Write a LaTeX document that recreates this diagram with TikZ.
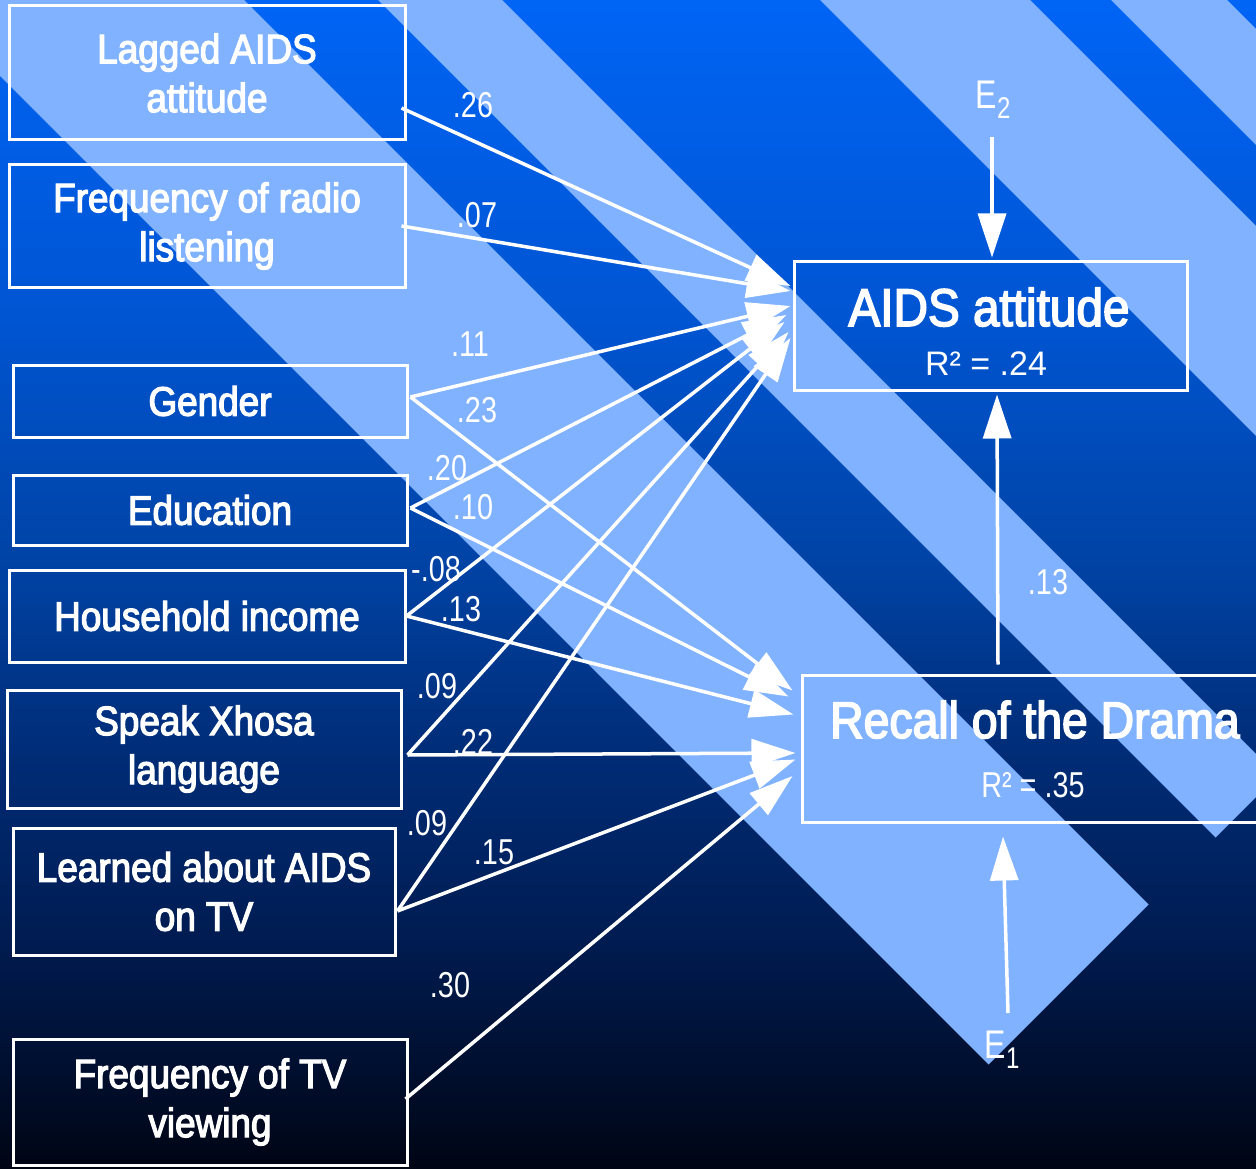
\documentclass[tikz,border=0pt]{standalone}
\usepackage{fontspec}
\setmainfont{Liberation Sans}
\newfontfamily\narfont{Liberation Sans}[FakeStretch=0.9, FakeBold=3]
\newfontfamily\lblfont{Liberation Sans}[FakeStretch=0.8]
\usetikzlibrary{arrows.meta}
\definecolor{stripe}{RGB}{128,178,255}
\definecolor{bgA}{RGB}{0,100,245}
\definecolor{bgB}{RGB}{0,85,210}
\definecolor{bgC}{RGB}{0,67,165}
\definecolor{bgD}{RGB}{0,45,120}
\definecolor{bgE}{RGB}{0,28,82}
\definecolor{bgF}{RGB}{0,5,20}
\pgfdeclareverticalshading{bgshade}{100bp}{color(0bp)=(bgF); color(25bp)=(bgF); color(35bp)=(bgE); color(43bp)=(bgD); color(51bp)=(bgC); color(61.5bp)=(bgB); color(75bp)=(bgA); color(100bp)=(bgA)}
\newcommand{\bxfont}{\narfont\fontsize{41}{49}\selectfont}
\newcommand{\lbfont}{\lblfont\fontsize{36}{36}\selectfont}
\tikzset{
  box/.style={draw=white, line width=3pt, text=white, align=center, inner sep=0pt, font=\bxfont},
  arr/.style={draw=white, line width=3.5pt, -{Triangle[length=44pt,width=28pt]}},
  lbl/.style={text=white, font=\lbfont, inner sep=0pt},
}
\begin{document}
\begin{tikzpicture}[x=1pt,y=-1pt]
\useasboundingbox (0,0) rectangle (1256,1169);
\begin{scope}
\clip (0,0) rectangle (1256,1169);
\shade[shading=bgshade] (0,0) rectangle (1256,1169);
% light stripes (45 degrees), bands A and B end at x+y=2053
\fill[stripe] (-86,-10) -- (234,-10) -- (1148.5,904.5) -- (988.5,1064.5) -- cycle;
\fill[stripe] (368,-10) -- (492,-10) -- (1277.5,775.5) -- (1215.5,837.5) -- cycle;
\fill[stripe] (810,-10) -- (1020,-10) -- (1541.5,511.5) -- (1436.5,616.5) -- cycle;
\fill[stripe] (1101,-10) -- (1217,-10) -- (1640,413) -- (1582,471) -- cycle;
\end{scope}

% predictor boxes
\node[box, minimum width=396pt, minimum height=134pt] (lag) at (207,73) {Lagged AIDS\\attitude};
\node[box, minimum width=396pt, minimum height=122pt] (radio) at (207,226) {Frequency of radio\\listening};
\node[box, minimum width=394pt, minimum height=72pt] (gen) at (210,401) {Gender};
\node[box, minimum width=394pt, minimum height=70pt] (edu) at (210,510) {Education};
\node[box, minimum width=396pt, minimum height=92pt] (hh) at (207,616) {Household income};
\node[box, minimum width=394pt, minimum height=118pt] (xho) at (204,749) {Speak Xhosa\\language};
\node[box, minimum width=382pt, minimum height=127pt] (tv) at (204,891.5) {Learned about AIDS\\on TV};
\node[box, minimum width=394pt, minimum height=126pt] (ftv) at (210,1102) {Frequency of TV\\viewing};

% outcome boxes
\node[box, minimum width=393pt, minimum height=128pt] (aids) at (990.5,326) {};
\node[text=white, inner sep=0pt, anchor=base, font=\narfont\fontsize{53}{53}\selectfont] (aidst) at (989,326) {AIDS attitude};
\node[text=white, inner sep=0pt, anchor=base, font=\fontsize{34}{34}\selectfont] (aidsr) at (986,375) {R² = .24};
\node[box, minimum width=460pt, minimum height=147pt] (rec) at (1032,748.5) {};
\node[text=white, inner sep=0pt, anchor=base, font=\narfont\fontsize{51.5}{52}\selectfont] (rect) at (1035,738) {Recall of the Drama};
\node[lbl, anchor=base] (recr) at (1033,797) {R² = .35};

% error terms
\node[lbl, font=\lblfont\fontsize{40}{40}\selectfont] (e2) at (993,100) {E\raisebox{-10pt}{\fontsize{30}{30}\selectfont 2}};
\node[lbl, font=\lblfont\fontsize{40}{40}\selectfont] (e1) at (1002,1050) {E\raisebox{-10pt}{\fontsize{30}{30}\selectfont 1}};
\coordinate (e2tail) at (992,137);
\coordinate (e1tail) at (1008,1013);

% arrows to AIDS attitude
\draw[arr] ([xshift=-5pt,yshift=-35pt]lag.east) -- ([xshift=-2pt,yshift=40pt]aids.west);
\draw[arr] ([xshift=-5pt]radio.east) -- ([xshift=-2pt,yshift=35pt]aids.west);
\draw[arr] ([xshift=2pt,yshift=4pt]gen.east) -- ([xshift=-2pt,yshift=20pt]aids.west);
\draw[arr] ([xshift=2pt,yshift=2pt]edu.east) -- ([xshift=-6pt,yshift=11pt]aids.west);
\draw[arr] (hh.east) -- ([xshift=-8pt,yshift=4pt]aids.west);
\draw[arr] ([xshift=5pt,yshift=-6pt]xho.east) -- ([xshift=-4pt,yshift=-6pt]aids.west);
\draw[arr] ([xshift=1pt,yshift=-19.5pt]tv.east) -- ([xshift=-2pt,yshift=-12pt]aids.west);

% arrows to Recall of the Drama
\draw[arr] ([xshift=2pt,yshift=4pt]gen.east) -- ([xshift=-8pt,yshift=58pt]rec.west);
\draw[arr] ([xshift=2pt,yshift=2pt]edu.east) -- ([xshift=-12pt,yshift=52pt]rec.west);
\draw[arr] (hh.east) -- ([xshift=-7pt,yshift=34pt]rec.west);
\draw[arr] ([xshift=5pt,yshift=-6pt]xho.east) -- ([xshift=-5pt,yshift=-4.5pt]rec.west);
\draw[arr] ([xshift=1pt,yshift=-19.5pt]tv.east) -- ([xshift=-5pt,yshift=-11pt]rec.west);
\draw[arr] ([xshift=-3pt,yshift=3pt]ftv.east) -- ([xshift=-8pt,yshift=-27.5pt]rec.west);

% recall -> attitude, errors
\draw[arr] ([xshift=-34pt,yshift=9pt]rec.north) -- ([xshift=6.5pt,yshift=-3pt]aids.south);
\draw[arr] (e2tail) -- ([xshift=1.5pt,yshift=3pt]aids.north);
\draw[arr] (e1tail) -- ([xshift=-29pt,yshift=-13pt]rec.south);

% path coefficients
\node[lbl] (l26) at (473,105) {.26};
\node[lbl] (l07) at (477,215) {.07};
\node[lbl] (l11) at (470,344) {.11};
\node[lbl] (l23) at (477,410) {.23};
\node[lbl] (l20) at (447,468) {.20};
\node[lbl] (l10) at (473,507) {.10};
\node[lbl] (l08) at (436,569) {-.08};
\node[lbl] (l13a) at (461,609) {.13};
\node[lbl] (l09a) at (437,686) {.09};
\node[lbl] (l22) at (473,742) {.22};
\node[lbl] (l09b) at (427,823) {.09};
\node[lbl] (l15) at (494,852) {.15};
\node[lbl] (l30) at (450,985) {.30};
\node[lbl] (l13b) at (1048,582) {.13};
\end{tikzpicture}
\end{document}
